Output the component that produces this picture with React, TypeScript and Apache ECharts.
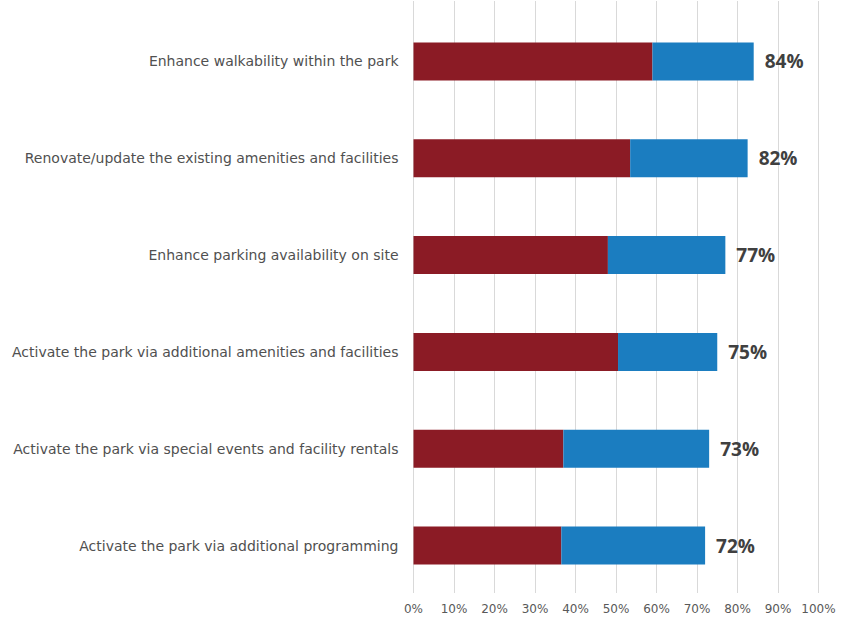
import React, { useEffect, useRef } from "react";
import * as echarts from "echarts";

const categories = [
  "Enhance walkability within the park",
  "Renovate/update the existing amenities and facilities",
  "Enhance parking availability on site",
  "Activate the park via additional amenities and facilities",
  "Activate the park via special events and facility rentals",
  "Activate the park via additional programming",
];
const redValues = [59, 53.5, 48, 50.5, 37, 36.5];
const blueValues = [25, 29, 29, 24.5, 36, 35.5];
const totals = [84, 82, 77, 75, 73, 72];
const xTicks = [0, 10, 20, 30, 40, 50, 60, 70, 80, 90, 100];

export default function App() {
  const ref = useRef<HTMLDivElement>(null);
  useEffect(() => {
    if (!ref.current) return;
    const chart = echarts.init(ref.current, null, { renderer: "svg" });
    const cats = [...categories].reverse();
    const red = [...redValues].reverse();
    const blue = [...blueValues].reverse();
    const tot = [...totals].reverse();
    chart.setOption({
      animation: false,
      backgroundColor: "#ffffff",
      grid: [
        { left: 413.5, right: 27.5, top: 13, bottom: 30, containLabel: false },
        { left: 413.5, right: 27.5, top: 1, bottom: 31, containLabel: false },
      ],
      xAxis: [
        {
          type: "value",
          gridIndex: 0,
          min: xTicks[0],
          max: xTicks[xTicks.length - 1],
          interval: 10,
          axisLine: { show: false },
          axisTick: { show: false },
          splitLine: { show: false },
          axisLabel: {
            formatter: (v: number) => v + "%",
            color: "#595959",
            fontFamily: "DejaVu Sans",
            fontSize: 12,
            margin: 9,
          },
        },
        {
          type: "value",
          gridIndex: 1,
          min: xTicks[0],
          max: xTicks[xTicks.length - 1],
          interval: 10,
          axisLine: { show: false },
          axisTick: { show: false },
          axisLabel: { show: false },
          splitLine: { show: true, lineStyle: { color: "#d9d9d9", width: 1 } },
        },
      ],
      yAxis: [
        {
          type: "category",
          gridIndex: 0,
          data: cats,
          axisLine: { show: false },
          axisTick: { show: false },
          axisLabel: {
            color: "#505050",
            fontFamily: "DejaVu Sans",
            fontSize: 14,
            margin: 15,
          },
        },
        {
          type: "value",
          gridIndex: 1,
          show: false,
          min: 0,
          max: 1,
          splitLine: { show: false },
        },
      ],
      series: [
        {
          type: "bar",
          stack: "s",
          xAxisIndex: 0,
          yAxisIndex: 0,
          data: red,
          barWidth: 38,
          itemStyle: { color: "#8B1B25" },
          z: 3,
        },
        {
          type: "bar",
          stack: "s",
          xAxisIndex: 0,
          yAxisIndex: 0,
          data: blue,
          barWidth: 38,
          itemStyle: { color: "#1B7DC0" },
          z: 3,
          label: {
            show: true,
            position: "right",
            distance: 11,
            formatter: (p: any) => tot[p.dataIndex] + "%",
            color: "#404040",
            fontFamily: "Open Sans",
            fontWeight: "bold",
            fontSize: 19,
          },
        },
      ],
    });
    return () => chart.dispose();
  }, []);
  return (
    <div
      ref={ref}
      style={{ position: "fixed", left: 0, top: 0, width: 846, height: 624 }}
    />
  );
}
